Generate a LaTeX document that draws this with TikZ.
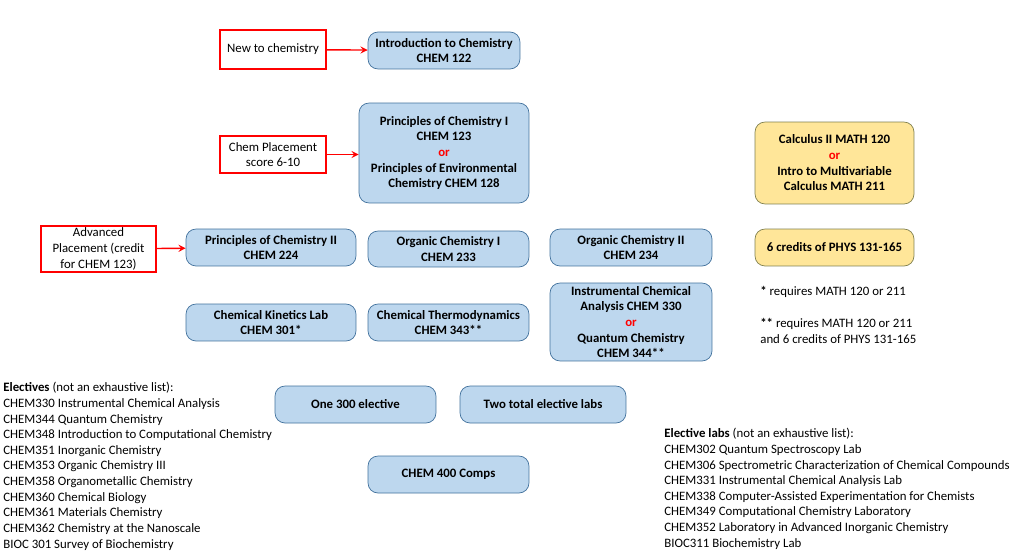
\documentclass[tikz,border=0pt]{standalone}
\usepackage{fontspec}
\setmainfont{Carlito}
\usetikzlibrary{positioning}
\definecolor{boxblue}{HTML}{BDD7EE}
\definecolor{boxedge}{HTML}{41719C}
\definecolor{boxyel}{HTML}{FFE699}
\definecolor{yeledge}{HTML}{BF9000}
\newcommand{\dgfont}{\fontsize{7.3}{8.9}\selectfont}
\tikzset{
  course/.style={draw=boxedge, fill=boxblue, rounded corners=2mm, align=center, font=\dgfont\bfseries, inner sep=1pt},
  req/.style={draw=boxedge!50!yeledge, fill=boxyel, rounded corners=2mm, align=center, font=\dgfont\bfseries, inner sep=1pt},
  entry/.style={draw=red, thick, align=center, inner sep=1pt},
  goto/.style={->, red, thick, >=stealth},
  listing/.style={anchor=north west, align=left, inner sep=0pt}
}
\begin{document}
\begin{tikzpicture}[x=0.02cm, y=-0.02cm, every node/.style={font=\dgfont}]
    \path[use as bounding box] (0,0) rectangle (1024,554);

    % entry points
    \node[entry, minimum width=2.12cm, minimum height=0.78cm] at (273,49.5) (new) {New to chemistry};
    \node[entry, minimum width=2.12cm, minimum height=0.74cm] at (273,154.5) (place) {Chem Placement\\score 6-10};
    \node[entry, minimum width=2.3cm, minimum height=0.92cm] at (98.5,249) (adv) {Advanced\\Placement (credit\\for CHEM 123)};

    % courses
    \node[course, minimum width=3.04cm, minimum height=0.74cm] at (444,50.5) (c122) {Introduction to Chemistry\\CHEM 122};
    \node[course, minimum width=3.4cm, minimum height=2cm] at (444,153) (c123) {Principles of Chemistry I\\CHEM 123\\{\color{red}or}\\Principles of Environmental\\Chemistry CHEM 128};
    \node[req, minimum width=3.18cm, minimum height=1.64cm] at (834.5,163) (math) {Calculus II MATH 120\\{\color{red}or}\\Intro to Multivariable\\Calculus MATH 211};
    \node[course, minimum width=3.4cm, minimum height=0.74cm] at (271,247.5) (c224) {Principles of Chemistry II\\CHEM 224};
    \node[course, minimum width=3.22cm, minimum height=0.72cm] at (448.5,249) (c233) {Organic Chemistry I\\CHEM 233};
    \node[course, minimum width=3.24cm, minimum height=0.74cm] at (631,247.5) (c234) {Organic Chemistry II\\CHEM 234};
    \node[req, minimum width=3.18cm, minimum height=0.74cm] at (834.5,247.5) (phys) {6 credits of PHYS 131-165};
    \node[course, minimum width=3.4cm, minimum height=0.74cm] at (271,322.5) (c301) {Chemical Kinetics Lab\\CHEM 301*};
    \node[course, minimum width=3.22cm, minimum height=0.74cm] at (448.5,322.5) (c343) {Chemical Thermodynamics\\CHEM 343**};
    \node[course, minimum width=3.24cm, minimum height=1.56cm] at (631,322) (c330) {Instrumental Chemical\\Analysis CHEM 330\\{\color{red}or}\\Quantum Chemistry\\CHEM 344**};
    \node[course, minimum width=3.22cm, minimum height=0.74cm] at (355.5,404.5) (elec) {One 300 elective};
    \node[course, minimum width=3.32cm, minimum height=0.74cm] at (543,404.5) (labs) {Two total elective labs};
    \node[course, minimum width=3.22cm, minimum height=0.74cm] at (448.5,474.5) (c400) {CHEM 400 Comps};

    \draw[goto] (new) -- (c122);
    \draw[goto] (place) -- (place -| c123.west);
    \draw[goto] (adv) -- (c224);

    % notes
    \node[listing] at (760,286) (note1) {\textbf{*} requires MATH 120 or 211};
    \node[listing] at (760,318) (note2) {\textbf{**} requires MATH 120 or 211\\and 6 credits of PHYS 131-165};

    \node[listing] at (3,382) (electives) {\textbf{Electives} (not an exhaustive list):\\
      CHEM330 Instrumental Chemical Analysis\\
      CHEM344 Quantum Chemistry\\
      CHEM348 Introduction to Computational Chemistry\\
      CHEM351 Inorganic Chemistry\\
      CHEM353 Organic Chemistry III\\
      CHEM358 Organometallic Chemistry\\
      CHEM360 Chemical Biology\\
      CHEM361 Materials Chemistry\\
      CHEM362 Chemistry at the Nanoscale\\
      BIOC 301 Survey of Biochemistry};
    \node[listing] at (664,428) (lablist) {\textbf{Elective labs} (not an exhaustive list):\\
      CHEM302 Quantum Spectroscopy Lab\\
      CHEM306 Spectrometric Characterization of Chemical Compounds\\
      CHEM331 Instrumental Chemical Analysis Lab\\
      CHEM338 Computer-Assisted Experimentation for Chemists\\
      CHEM349 Computational Chemistry Laboratory\\
      CHEM352 Laboratory in Advanced Inorganic Chemistry\\
      BIOC311 Biochemistry Lab};
\end{tikzpicture}
\end{document}
